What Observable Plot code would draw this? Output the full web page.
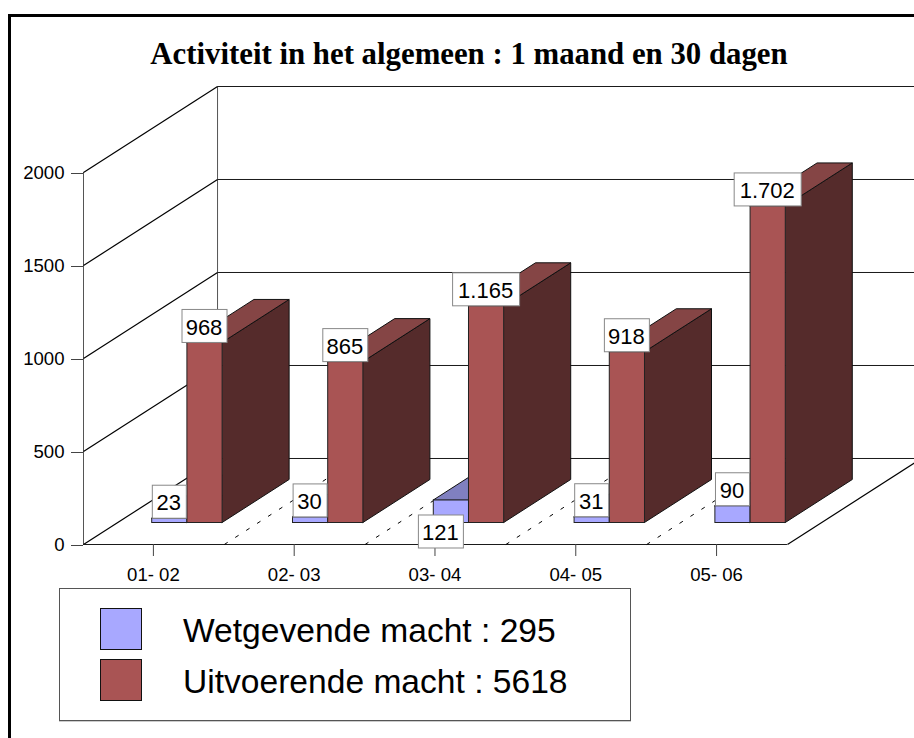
<!DOCTYPE html>
<html><head><meta charset="utf-8">
<script src="https://cdn.jsdelivr.net/npm/d3@7"></script>
<script src="https://cdn.jsdelivr.net/npm/@observablehq/plot@0.6"></script>
<style>
html,body{margin:0;padding:0;background:#fff;overflow:hidden;width:914px;height:738px}
#frame{position:absolute;left:8px;top:14px;right:0;bottom:0;border-left:3px solid #000;border-top:3px solid #000;z-index:5;pointer-events:none}
#title{height:70px;box-sizing:border-box;padding-top:36px;padding-left:24px;text-align:center;font:bold 30.8px/36px "Liberation Serif",serif;color:#000;white-space:nowrap}
#chart svg{display:block}
#legend{position:absolute;left:59px;top:588px;width:570px;height:131px;border:1px solid #555;box-shadow:0 1px 0 #ccc}
.row{position:absolute;left:40px;height:42px;display:flex;align-items:center}
.sw{width:40px;height:40px;border:1px solid #111;margin-right:41px}
.lab{font:33.6px/42px "Liberation Sans",sans-serif;color:#000;white-space:nowrap;position:relative;top:2px}
</style></head><body>
<div id="frame"></div>
<div id="title">Activiteit in het algemeen : 1 maand en 30 dagen</div>
<div id="chart"></div>
<div id="legend"></div>
<script>
const categories = ["01- 02","02- 03","03- 04","04- 05","05- 06"];
const wetgevend = [23,30,121,31,90];
const uitvoerend = [968,865,1165,918,1702];
const yTicks = [0,500,1000,1500,2000];
const seriesNames = ["Wetgevende macht : 295","Uitvoerende macht : 5618"];
const displacedLabels = [121];

// Oblique depth, expressed in the units of the x and y scales
const DX = 0.952, DY = 462.4, XMAX = categories.length + DX, YMAX = 2000 + DY;
const PXX = 838 / XMAX, PXY = 458 / YMAX;
const near = 0.25, far = 0.75;
const blue = {front:"#a8a8ff", top:"#8080c0", side:"#54547f"};
const red = {front:"#a95454", top:"#854545", side:"#552b2b"};
const line = "#1a1a1a";

const bars = (vals, off) => vals.map((v,i)=>({i, v, u0:i+near+off, u1:i+near+off+0.25}));
const blueBars = bars(wetgevend, 0), redBars = bars(uitvoerend, 0.25);

const side = rows => rows.flatMap(b=>[near,far].map(d=>({b:b.i,x:b.u1+d*DX,y1:d*DY,y2:b.v+d*DY})));
const top_ = rows => rows.flatMap(b=>[near,far].map(d=>({b:b.i,x1:b.u0+d*DX,x2:b.u1+d*DX,y:b.v+d*DY})));
const front = rows => rows.map(b=>({x1:b.u0+near*DX,x2:b.u1+near*DX,y1:near*DY,y2:b.v+near*DY}));

const barMarks = (rows,c)=>[
  Plot.area(side(rows),{x1:"x",x2:"x",y1:"y1",y2:"y2",z:"b",fill:c.side,stroke:"#111",strokeWidth:1}),
  Plot.area(top_(rows),{x1:"x1",x2:"x2",y1:"y",y2:"y",z:"b",fill:c.top,stroke:"#111",strokeWidth:1}),
  Plot.rect(front(rows),{x1:"x1",x2:"x2",y1:"y1",y2:"y2",fill:c.front,stroke:"#222",strokeWidth:1})
];

const fmt = d3.formatLocale({decimal:",",thousands:".",grouping:[3],currency:["",""]}).format(",");
const labels = [...blueBars,...redBars].map(b=>{
  const text = fmt(b.v);
  const w = text.length===2?34:text.length===3?45:67;
  const cx = (b.u0+b.u1)/2+near*DX, cy = b.v+near*DY+16.5/PXY;
  return {text,cx,cy,x1:cx-w/2/PXX,x2:cx+w/2/PXX,y1:cy-16.5/PXY,y2:cy+16.5/PXY,moved:displacedLabels.includes(b.v)};
});
const labelMarks = (rows,dx,dy)=>[
  Plot.rect(rows,{x1:"x1",x2:"x2",y1:"y1",y2:"y2",fill:"#fff",stroke:"#888",strokeWidth:1,dx,dy}),
  Plot.text(rows,{x:"cx",y:"cy",text:"text",fontSize:22,fill:"#000",dx:dx-1,dy:dy+1})
];

const boundaries = d3.range(1,categories.length);
const chart = Plot.plot({
  width:914,height:516,
  marginLeft:83,marginRight:-7,marginTop:16,marginBottom:42,
  style:{fontFamily:"'Liberation Sans',sans-serif",background:"transparent",color:"#000"},
  x:{domain:[0,XMAX],range:[83,921]},
  y:{domain:[0,YMAX],range:[474,16]},
  marks:[
    Plot.ruleY(yTicks,{y:d=>d+DY,x1:DX,x2:XMAX,stroke:line}),
    Plot.ruleX([DX],{y1:DY,y2:YMAX,stroke:"#555"}),
    Plot.ruleX([0],{y1:0,y2:2000,stroke:"#555"}),
    Plot.link(yTicks,{x1:0,x2:DX,y1:d=>d,y2:d=>d+DY,stroke:"#000",strokeWidth:1.2}),
    Plot.ruleY([0],{x1:0,x2:categories.length,stroke:line}),
    Plot.link([categories.length],{x1:d=>d,x2:d=>d+DX,y1:0,y2:DY,stroke:"#000",strokeWidth:1.2}),
    Plot.link(boundaries,{x1:d=>d,x2:d=>d+DX,y1:0,y2:DY,stroke:"#000",strokeDasharray:"4 9"}),
    Plot.axisY({ticks:yTicks,tickFormat:d=>String(d),tickSize:12,tickPadding:7,fontSize:18.6,label:null,stroke:"#444",dy:1}),
    Plot.axisX({ticks:categories.map((_,i)=>i+0.5),tickFormat:d=>categories[d-0.5],tickSize:12,tickPadding:11,fontSize:18.6,label:null,stroke:"#444",dx:-0.5}),
    ...barMarks(blueBars,blue),
    ...barMarks(redBars,red),
    ...labelMarks(labels.filter(d=>!d.moved),0,0),
    ...labelMarks(labels.filter(d=>d.moved),-10,48)
  ]
});
document.getElementById("chart").append(chart);

const legend = document.getElementById("legend");
seriesNames.forEach((name,i)=>{
  const row = document.createElement("div");
  row.className = "row";
  row.style.top = (19+i*50.5)+"px";
  row.innerHTML = `<div class="sw" style="background:${[blue,red][i].front}"></div><div class="lab">${name}</div>`;
  legend.append(row);
});
</script>
</body></html>
